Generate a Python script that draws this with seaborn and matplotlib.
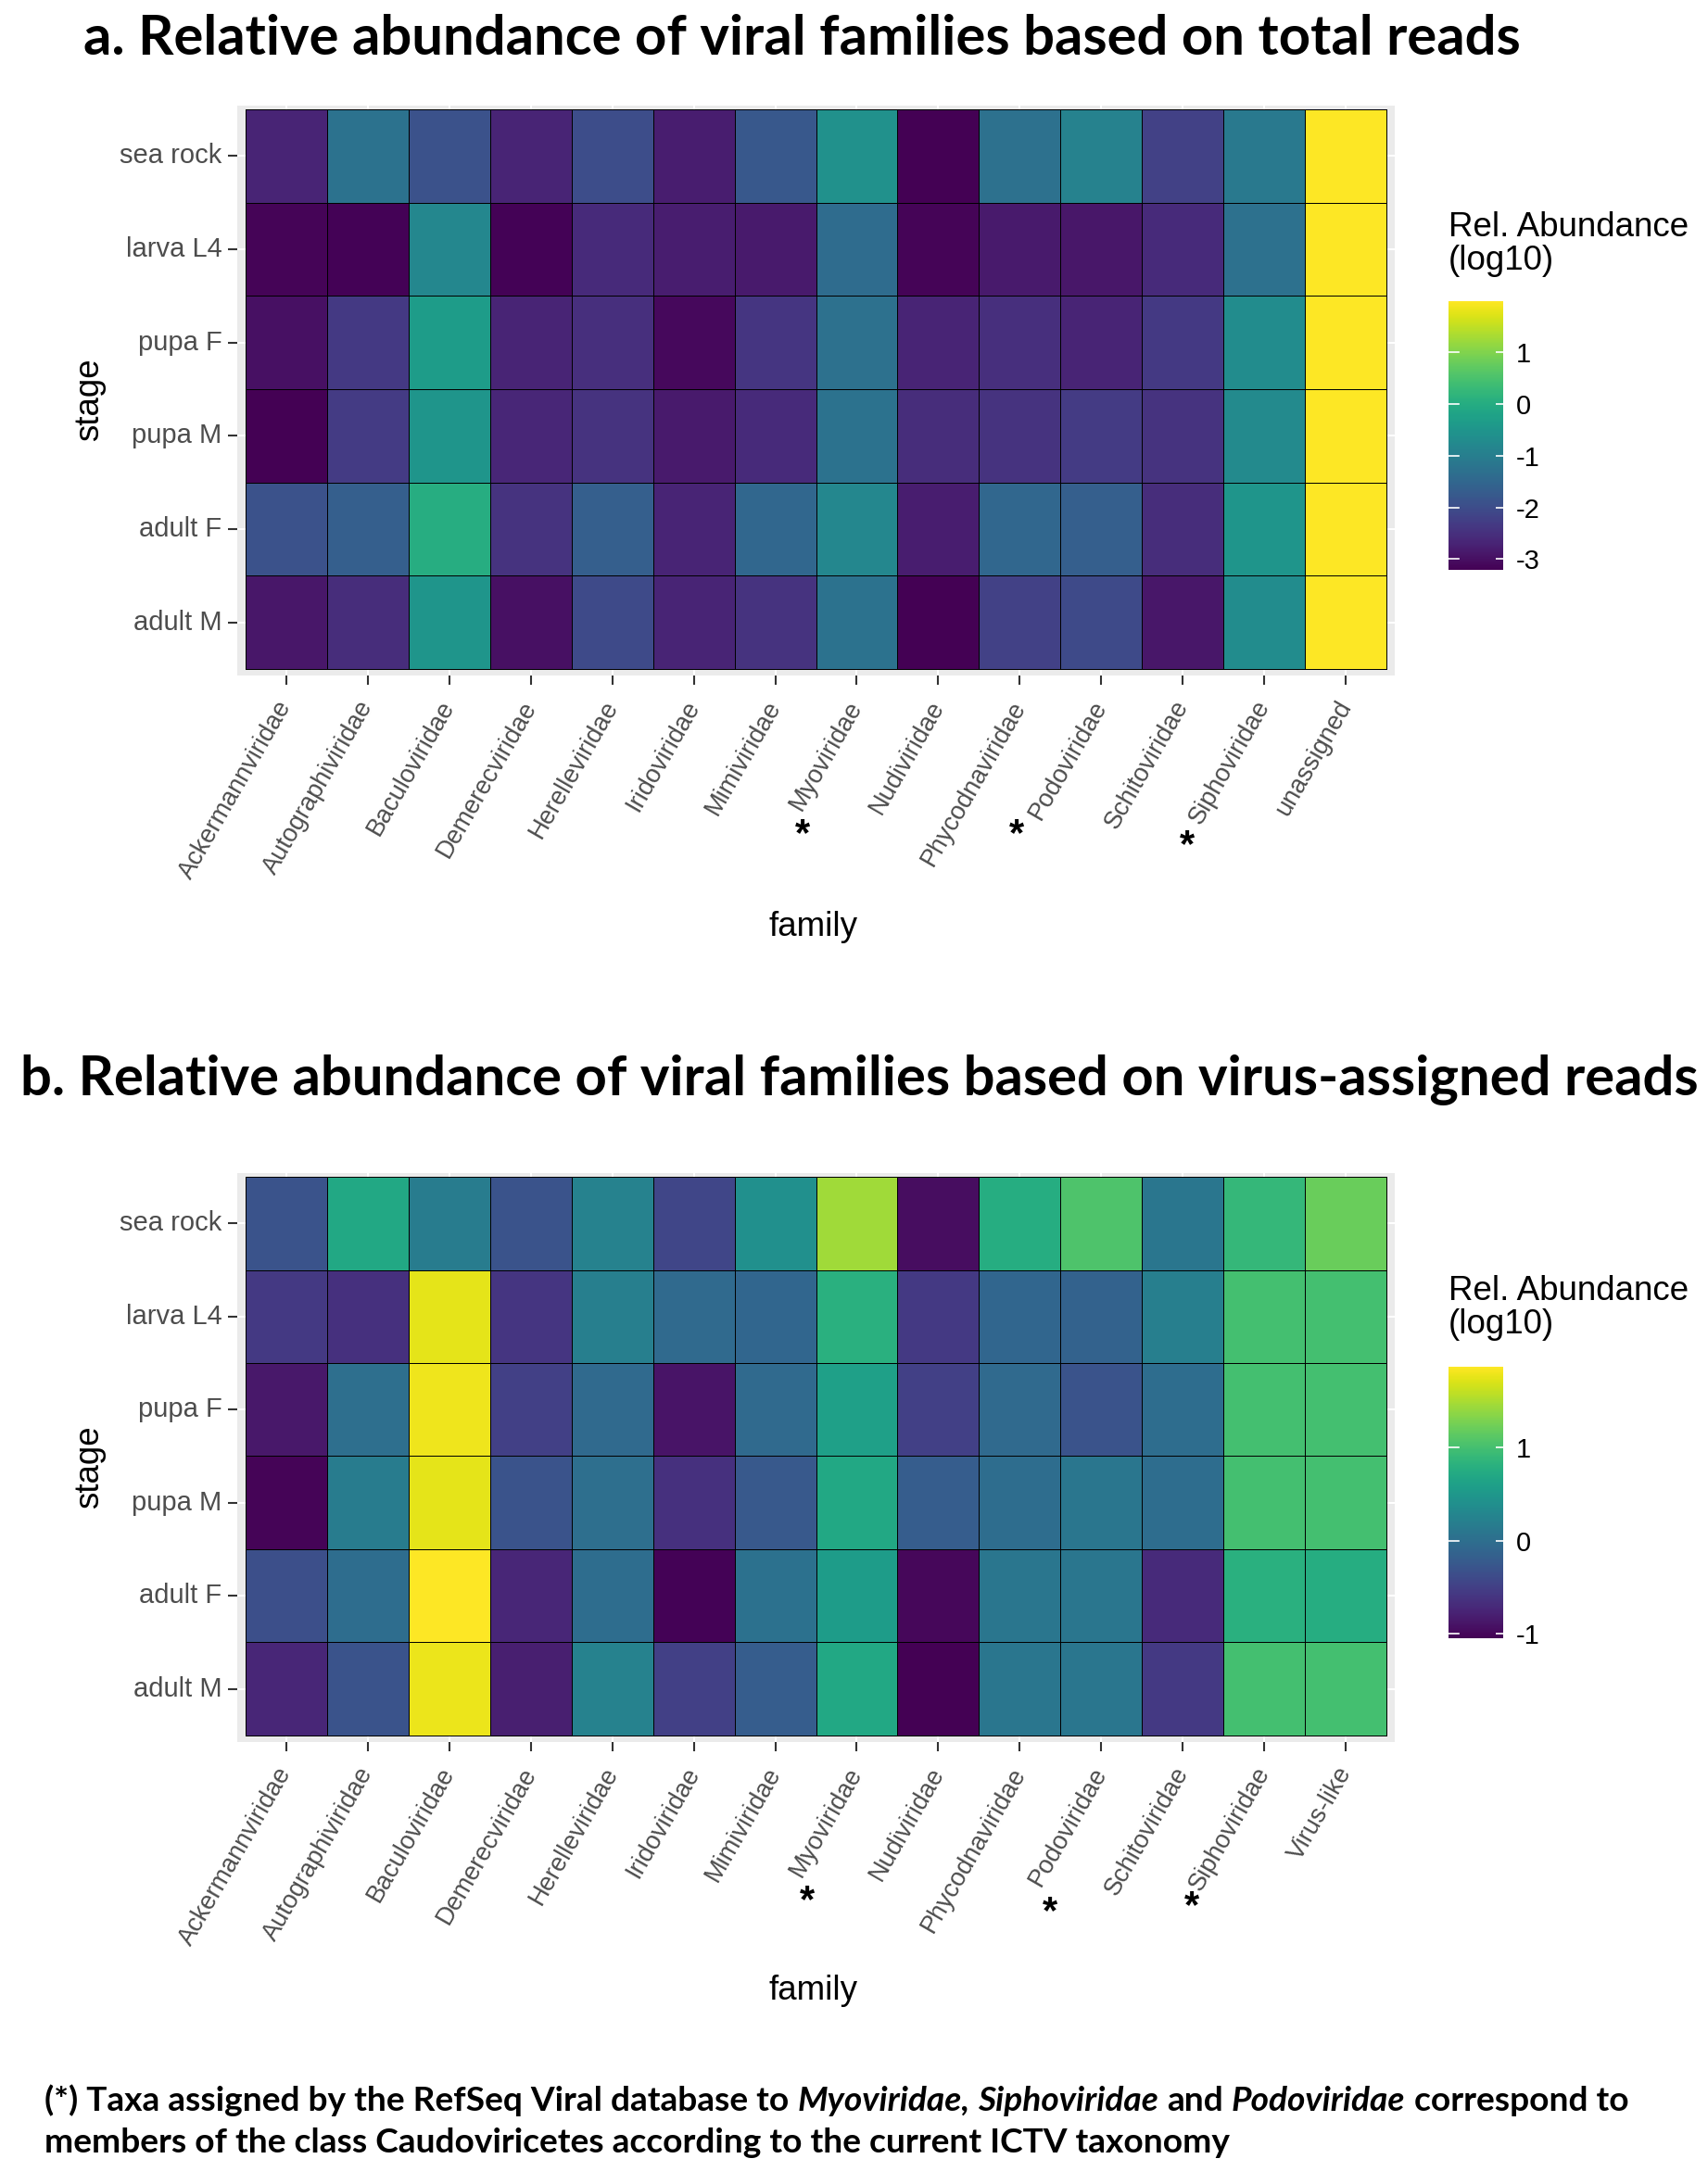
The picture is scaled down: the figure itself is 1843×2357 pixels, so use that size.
import numpy as np
import pandas as pd
import seaborn as sns
import matplotlib.pyplot as plt
from matplotlib import transforms

plt.rcParams['font.family'] = ['Liberation Sans', 'DejaVu Sans']

W, H = 1843, 2357

stages = ["sea rock", "larva L4", "pupa F", "pupa M", "adult F", "adult M"]

families_total = ["Ackermannviridae", "Autographiviridae", "Baculoviridae", "Demerecviridae",
                  "Herelleviridae", "Iridoviridae", "Mimiviridae", "Myoviridae", "Nudiviridae",
                  "Phycodnaviridae", "Podoviridae", "Schitoviridae", "Siphoviridae", "unassigned"]
families_virus = families_total[:-1] + ["Virus-like"]

# log10 relative abundance, rows follow `stages`
abund_total = [
    [-2.70, -1.24, -1.90, -2.70, -2.00, -2.80, -1.80, -0.60, -3.21, -1.30, -0.90, -2.20, -1.10, 1.99],
    [-3.15, -3.18, -0.80, -3.18, -2.60, -2.80, -2.85, -1.40, -3.15, -2.85, -2.90, -2.60, -1.30, 1.99],
    [-3.00, -2.35, -0.35, -2.70, -2.50, -3.10, -2.40, -1.30, -2.70, -2.50, -2.70, -2.35, -0.70, 1.99],
    [-3.21, -2.30, -0.50, -2.65, -2.45, -2.85, -2.60, -1.25, -2.55, -2.45, -2.30, -2.45, -0.75, 1.99],
    [-1.90, -1.66, 0.03, -2.45, -1.66, -2.70, -1.50, -0.80, -2.80, -1.50, -1.66, -2.55, -0.50, 1.99],
    [-2.90, -2.55, -0.50, -3.00, -2.05, -2.70, -2.45, -1.25, -3.21, -2.20, -2.05, -2.90, -0.70, 1.99],
]

abund_virus = [
    [-0.30, 0.70, 0.16, -0.30, 0.25, -0.44, 0.40, 1.45, -0.95, 0.76, 1.05, 0.10, 0.90, 1.20],
    [-0.56, -0.65, 1.75, -0.60, 0.20, -0.05, -0.10, 0.80, -0.56, -0.10, -0.14, 0.20, 1.00, 1.00],
    [-0.86, 0.00, 1.80, -0.50, -0.05, -0.90, -0.05, 0.60, -0.50, -0.05, -0.30, -0.02, 1.00, 1.00],
    [-1.02, 0.16, 1.75, -0.30, 0.00, -0.65, -0.25, 0.70, -0.20, -0.02, 0.10, -0.02, 1.00, 1.00],
    [-0.35, -0.02, 1.87, -0.74, -0.02, -1.03, 0.04, 0.55, -1.00, 0.10, 0.10, -0.70, 0.80, 0.76],
    [-0.74, -0.30, 1.78, -0.80, 0.25, -0.50, -0.20, 0.70, -1.05, 0.10, 0.10, -0.56, 1.00, 1.00],
]

starred = ["Myoviridae", "Podoviridae", "Siphoviridae"]

ytick_size = 21
xtick_size = 19.5
title_size = 26.5


def fig_rect(x0, y0, x1, y1):
    return [x0 / W, 1 - y1 / H, (x1 - x0) / W, (y1 - y0) / H]


def draw_panel(ax, cax, values, families, star_shift):
    df = pd.DataFrame(values, index=stages, columns=families)
    lo, hi = df.values.min(), df.values.max()
    ticks = np.arange(np.ceil(lo), np.floor(hi) + 1)
    sns.heatmap(df, ax=ax, cmap="viridis", vmin=lo, vmax=hi,
                linewidths=0.6, linecolor="black", cbar_ax=cax,
                cbar_kws={"ticks": ticks})
    ax.set_facecolor("#EBEBEB")
    ax.set_axisbelow(True)
    ax.grid(True, color="white", linewidth=1.5)
    ax.set_xlim(-0.1, len(families) + 0.1)
    ax.set_ylim(len(stages) + 0.07, -0.04)
    ax.set_xlabel("")
    ax.set_ylabel("")
    ax.set_xticklabels(families, rotation=60, ha="right", va="center",
                       rotation_mode="anchor", fontsize=xtick_size, color="#4D4D4D")
    ax.set_yticklabels(stages, rotation=0, fontsize=ytick_size, color="#4D4D4D")
    ax.tick_params(axis="both", length=7, width=1.5, color="#333333", pad=5)
    ax.tick_params(axis="x", pad=14)

    # asterisks flagging the Caudoviricetes families
    trans = transforms.blended_transform_factory(ax.transData, ax.transAxes)
    for fam, (dx, yy) in zip(starred, star_shift):
        i = families.index(fam)
        ax.text(i + 0.5 + dx, yy, "*", transform=trans, ha="center", va="center",
                fontsize=30, fontweight="bold", color="black")

    cb = ax.collections[0].colorbar
    cb.outline.set_visible(False)
    cax.tick_params(length=6, width=1.2, color="white", direction="in",
                    labelsize=ytick_size, labelcolor="black", pad=10)
    cax.set_yticklabels([f"{int(t)}" for t in ticks])
    left_trans = transforms.blended_transform_factory(cax.transAxes, cax.transData)
    for t in ticks:
        cax.plot([0, 0.18], [t, t], color="white", lw=1.2, transform=left_trans)


fig = plt.figure(figsize=(W / 100, H / 100), dpi=100)

ax_a = fig.add_axes(fig_rect(256, 114, 1505, 729))
cax_a = fig.add_axes(fig_rect(1563, 325, 1622, 615))
draw_panel(ax_a, cax_a, abund_total, families_total,
           [(-0.67, -0.28), (-1.04, -0.28), (-0.95, -0.30)])

ax_b = fig.add_axes(fig_rect(256, 1266, 1505, 1880))
cax_b = fig.add_axes(fig_rect(1563, 1475, 1622, 1768))
draw_panel(ax_b, cax_b, abund_virus, families_virus,
           [(-0.61, -0.28), (-0.63, -0.30), (-0.89, -0.29)])

title_font = ["Lato", "DejaVu Sans"]
fig.text(90 / W, 1 - 42 / H, "a. Relative abundance of viral families based on total reads",
         ha="left", va="center", fontsize=43, fontweight="bold", family=title_font)
fig.text(22 / W, 1 - 1165 / H, "b. Relative abundance of viral families based on virus-assigned reads",
         ha="left", va="center", fontsize=43, fontweight="bold", family=title_font)

for ytop in (228, 1376):
    fig.text(1563 / W, 1 - ytop / H, "Rel. Abundance\n(log10)", ha="left", va="top",
             fontsize=title_size, linespacing=1.05)

for ycen in (1583 - 1152, 1583):
    fig.text(97 / W, 1 - ycen / H, "stage", rotation=90, ha="center", va="center", fontsize=title_size)
for ycen in (1000, 2148):
    fig.text(878 / W, 1 - ycen / H, "family", ha="center", va="center", fontsize=title_size)

# footnote with italic family names
renderer = fig.canvas.get_renderer()
foot_size = 26.75
segments = [
    [("(*) Taxa assigned by the RefSeq Viral database to", "normal"), ("Myoviridae,", "italic"),
     ("Siphoviridae", "italic"), ("and", "normal"), ("Podoviridae", "italic"),
     ("correspond to", "normal")],
    [("members of the class Caudoviricetes according to the current ICTV taxonomy", "normal")],
]
probe1 = fig.text(0, 0, "x x", fontsize=foot_size, fontweight="bold", family=title_font)
probe2 = fig.text(0, 0, "xx", fontsize=foot_size, fontweight="bold", family=title_font)
space_w = probe1.get_window_extent(renderer).width - probe2.get_window_extent(renderer).width
probe1.remove()
probe2.remove()

for line, ybase in zip(segments, (2278, 2323)):
    x = 48
    for txt, style in line:
        t = fig.text(x / W, 1 - ybase / H, txt, ha="left", va="baseline", fontsize=foot_size,
                     fontweight="bold", style=style, family=title_font)
        x += t.get_window_extent(renderer).width + space_w

fig.savefig("out.png", dpi=100, facecolor="white")
